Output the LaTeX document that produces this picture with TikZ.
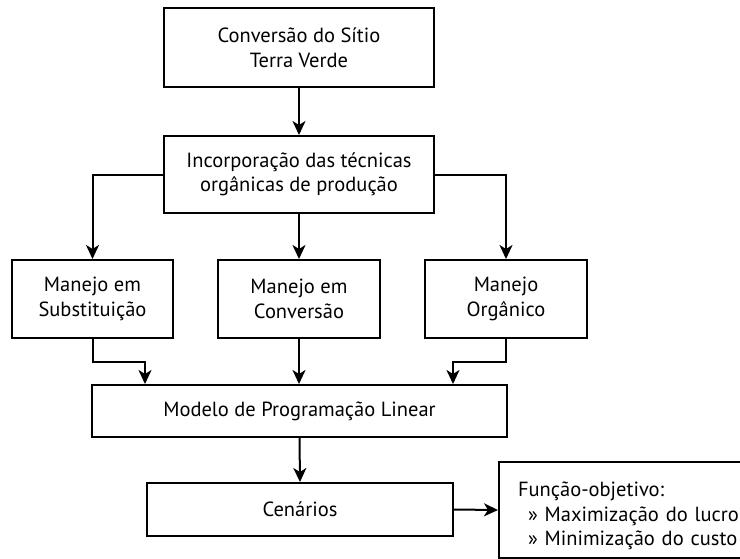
\documentclass[tikz,border=0pt]{standalone}
\usepackage{fontspec}
\setmainfont{PT Sans}
\usetikzlibrary{arrows.meta}

\tikzset{
  caixa/.style={draw, line width=2pt, align=center, inner sep=0pt,
    font=\fontsize{20.5}{24.5}\selectfont},
  seta/.style={line width=2pt, -{Stealth[length=14pt,width=13pt,inset=4pt]}}
}

\begin{document}
\begin{tikzpicture}[x=1pt,y=-1pt]
\useasboundingbox (0,0) rectangle (740,558);
% caixas
\node[caixa, minimum width=270, minimum height=79] (conv) at (299,47.5) {Conversão do Sítio\\Terra Verde};
\node[caixa, minimum width=270, minimum height=77] (incorp) at (299,174.5) {Incorporação das técnicas\\orgânicas de produção};
\node[caixa, minimum width=161, minimum height=78] (subst) at (92.5,299) {Manejo em\\Substituição};
\node[caixa, minimum width=162, minimum height=78] (emconv) at (299,299) {Manejo em\\Conversão};
\node[caixa, minimum width=162, minimum height=78] (organico) at (506,299) {Manejo\\Orgânico};
\node[caixa, minimum width=415, minimum height=52] (modelo) at (299.5,411) {Modelo de Programação Linear};
\node[caixa, minimum width=306, minimum height=53] (cenarios) at (300,509.5) {Cenários};
\node[caixa, anchor=north west, minimum width=270, minimum height=96, text width=232,
  inner xsep=19pt, align=left] (fobj) at (498,461)
  {\rule{0pt}{27pt}Função-objetivo:\\\hspace*{10pt}» Maximização do lucro\\\hspace*{10pt}» Minimização do custo};
% pontos de juncao
\coordinate (j1) at (145,362);
\coordinate (j2) at (453,362);
% setas
\draw[seta] (conv.south) -- (incorp.north);
\draw[seta] (incorp.west) -| (subst.north);
\draw[seta] (incorp.south) -- (emconv.north);
\draw[seta] (incorp.east) -| (organico.north);
\draw[seta] (subst.south) |- (j1) -- (j1 |- modelo.north);
\draw[seta] (emconv.south) -- (emconv.south |- modelo.north);
\draw[seta] (organico.south) |- (j2) -- (j2 |- modelo.north);
\draw[seta] (modelo.south) -- (cenarios.north);
\draw[seta] (cenarios.east) -- (fobj.west);
\end{tikzpicture}
\end{document}
